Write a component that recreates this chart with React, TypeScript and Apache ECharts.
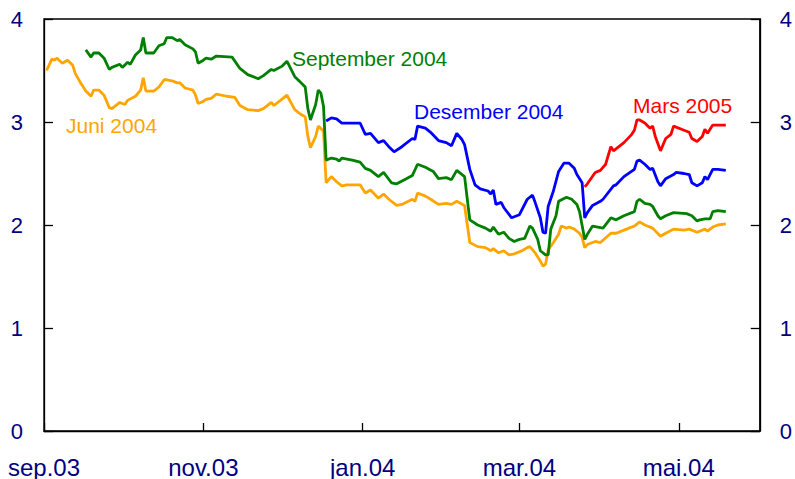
import React, { useEffect, useRef } from 'react';
import * as echarts from 'echarts';

// Juni 2004 (orange)
const junDates = ['2003-09-02','2003-09-04','2003-09-05','2003-09-06','2003-09-08','2003-09-10','2003-09-12','2003-09-13','2003-09-15','2003-09-17','2003-09-19','2003-09-20','2003-09-22','2003-09-24','2003-09-26','2003-09-27','2003-09-30','2003-10-02','2003-10-03','2003-10-06','2003-10-08','2003-10-09','2003-10-10','2003-10-13','2003-10-15','2003-10-17','2003-10-18','2003-10-20','2003-10-22','2003-10-23','2003-10-25','2003-10-28','2003-10-29','2003-10-30','2003-11-01','2003-11-02','2003-11-04','2003-11-06','2003-11-10','2003-11-13','2003-11-15','2003-11-18','2003-11-22','2003-11-24','2003-11-27','2003-11-28','2003-12-01','2003-12-03','2003-12-06','2003-12-08','2003-12-10','2003-12-11','2003-12-12','2003-12-14','2003-12-15','2003-12-17','2003-12-18','2003-12-20','2003-12-22','2003-12-24','2003-12-26','2003-12-31','2004-01-02','2004-01-04','2004-01-07','2004-01-09','2004-01-11','2004-01-14','2004-01-16','2004-01-20','2004-01-21','2004-01-22','2004-01-25','2004-01-27','2004-01-30','2004-02-02','2004-02-04','2004-02-06','2004-02-09','2004-02-11','2004-02-14','2004-02-17','2004-02-19','2004-02-20','2004-02-22','2004-02-24','2004-02-26','2004-02-28','2004-03-02','2004-03-04','2004-03-05','2004-03-07','2004-03-09','2004-03-10','2004-03-11','2004-03-12','2004-03-14','2004-03-16','2004-03-17','2004-03-19','2004-03-20','2004-03-22','2004-03-24','2004-03-25','2004-03-26','2004-03-27','2004-03-30','2004-04-01','2004-04-05','2004-04-07','2004-04-11','2004-04-14','2004-04-16','2004-04-18','2004-04-21','2004-04-24','2004-04-26','2004-04-29','2004-05-03','2004-05-05','2004-05-08','2004-05-11','2004-05-12','2004-05-14','2004-05-16','2004-05-19'];
const junValues = [3.50,3.61,3.60,3.62,3.57,3.60,3.55,3.47,3.38,3.30,3.25,3.31,3.31,3.26,3.14,3.13,3.19,3.17,3.21,3.25,3.31,3.43,3.30,3.30,3.34,3.41,3.41,3.40,3.38,3.38,3.33,3.31,3.26,3.18,3.20,3.22,3.23,3.27,3.25,3.24,3.16,3.12,3.11,3.13,3.19,3.16,3.22,3.26,3.12,3.08,3.05,2.86,2.75,2.86,2.96,2.91,2.41,2.47,2.42,2.38,2.39,2.39,2.31,2.34,2.26,2.30,2.25,2.19,2.20,2.25,2.23,2.31,2.28,2.25,2.20,2.21,2.20,2.23,2.19,1.83,1.79,1.78,1.75,1.77,1.73,1.75,1.71,1.72,1.75,1.78,1.79,1.73,1.65,1.60,1.62,1.76,1.83,1.91,1.99,1.97,1.98,1.96,1.92,1.88,1.78,1.81,1.84,1.83,1.92,1.92,1.96,1.99,2.03,2.00,1.97,1.89,1.92,1.96,1.95,1.96,1.93,1.96,1.94,1.98,2.00,2.01];

// September 2004 (green)
const sepDates = ['2003-09-17','2003-09-19','2003-09-20','2003-09-22','2003-09-24','2003-09-26','2003-09-27','2003-09-30','2003-10-01','2003-10-03','2003-10-04','2003-10-06','2003-10-08','2003-10-09','2003-10-10','2003-10-13','2003-10-15','2003-10-17','2003-10-18','2003-10-20','2003-10-22','2003-10-23','2003-10-25','2003-10-28','2003-10-29','2003-10-30','2003-11-01','2003-11-02','2003-11-04','2003-11-06','2003-11-12','2003-11-15','2003-11-18','2003-11-22','2003-11-24','2003-11-27','2003-11-28','2003-12-01','2003-12-03','2003-12-06','2003-12-08','2003-12-10','2003-12-11','2003-12-12','2003-12-14','2003-12-15','2003-12-16','2003-12-17','2003-12-18','2003-12-20','2003-12-22','2003-12-23','2003-12-24','2003-12-28','2003-12-31','2004-01-02','2004-01-04','2004-01-07','2004-01-09','2004-01-12','2004-01-14','2004-01-17','2004-01-20','2004-01-22','2004-01-25','2004-01-28','2004-01-30','2004-02-02','2004-02-04','2004-02-06','2004-02-09','2004-02-11','2004-02-14','2004-02-17','2004-02-19','2004-02-20','2004-02-22','2004-02-24','2004-02-26','2004-02-28','2004-03-01','2004-03-03','2004-03-05','2004-03-06','2004-03-08','2004-03-09','2004-03-11','2004-03-12','2004-03-13','2004-03-15','2004-03-16','2004-03-19','2004-03-21','2004-03-23','2004-03-24','2004-03-26','2004-03-27','2004-03-29','2004-03-31','2004-04-02','2004-04-05','2004-04-07','2004-04-10','2004-04-14','2004-04-15','2004-04-16','2004-04-18','2004-04-20','2004-04-21','2004-04-23','2004-04-24','2004-04-26','2004-04-29','2004-05-04','2004-05-06','2004-05-08','2004-05-09','2004-05-11','2004-05-13','2004-05-14','2004-05-16','2004-05-19'];
const sepValues = [3.70,3.63,3.67,3.67,3.62,3.51,3.53,3.56,3.53,3.58,3.56,3.65,3.70,3.82,3.67,3.67,3.74,3.76,3.82,3.82,3.79,3.80,3.75,3.71,3.68,3.57,3.60,3.62,3.61,3.64,3.63,3.52,3.46,3.42,3.45,3.51,3.50,3.54,3.59,3.44,3.39,3.34,3.13,3.02,3.17,3.31,3.28,3.15,2.63,2.65,2.64,2.62,2.65,2.63,2.61,2.55,2.53,2.47,2.51,2.41,2.40,2.44,2.48,2.59,2.56,2.52,2.45,2.46,2.44,2.53,2.47,2.05,2.00,1.97,1.94,1.98,1.91,1.93,1.87,1.84,1.86,1.87,1.99,1.97,1.86,1.75,1.71,1.71,1.96,2.09,2.23,2.27,2.25,2.20,2.13,1.86,1.91,1.99,1.98,1.97,2.07,2.05,2.09,2.13,2.23,2.25,2.21,2.20,2.18,2.09,2.06,2.09,2.12,2.11,2.09,2.04,2.05,2.06,2.06,2.13,2.14,2.13];

// Desember 2004 (blue)
const desDates = ['2003-12-18','2003-12-20','2003-12-22','2003-12-24','2003-12-31','2004-01-02','2004-01-04','2004-01-07','2004-01-09','2004-01-11','2004-01-13','2004-01-16','2004-01-20','2004-01-21','2004-01-22','2004-01-25','2004-01-27','2004-01-30','2004-02-02','2004-02-04','2004-02-06','2004-02-08','2004-02-09','2004-02-11','2004-02-13','2004-02-15','2004-02-18','2004-02-19','2004-02-20','2004-02-21','2004-02-23','2004-02-24','2004-02-27','2004-02-29','2004-03-01','2004-03-04','2004-03-06','2004-03-07','2004-03-09','2004-03-10','2004-03-11','2004-03-12','2004-03-14','2004-03-16','2004-03-18','2004-03-20','2004-03-22','2004-03-23','2004-03-25','2004-03-26','2004-03-27','2004-03-29','2004-04-01','2004-04-02','2004-04-06','2004-04-07','2004-04-10','2004-04-14','2004-04-15','2004-04-16','2004-04-18','2004-04-20','2004-04-21','2004-04-23','2004-04-24','2004-04-26','2004-04-29','2004-04-30','2004-05-03','2004-05-05','2004-05-06','2004-05-08','2004-05-10','2004-05-11','2004-05-12','2004-05-14','2004-05-16','2004-05-19'];
const desValues = [3.01,3.04,3.03,2.99,2.99,2.88,2.89,2.80,2.82,2.76,2.71,2.76,2.84,2.83,2.96,2.94,2.90,2.82,2.80,2.77,2.89,2.83,2.78,2.54,2.39,2.35,2.33,2.30,2.34,2.20,2.22,2.17,2.07,2.09,2.10,2.25,2.29,2.22,2.07,1.93,1.92,2.18,2.33,2.52,2.60,2.60,2.55,2.49,2.41,2.07,2.12,2.19,2.23,2.25,2.38,2.39,2.47,2.54,2.62,2.63,2.59,2.54,2.55,2.42,2.38,2.45,2.49,2.51,2.50,2.49,2.41,2.38,2.41,2.47,2.44,2.54,2.54,2.53];

// Mars 2005 (red)
const marDates = ['2004-03-26','2004-03-27','2004-03-30','2004-04-01','2004-04-03','2004-04-05','2004-04-06','2004-04-10','2004-04-13','2004-04-14','2004-04-15','2004-04-16','2004-04-18','2004-04-20','2004-04-21','2004-04-22','2004-04-24','2004-04-26','2004-04-28','2004-04-29','2004-05-03','2004-05-05','2004-05-06','2004-05-08','2004-05-10','2004-05-11','2004-05-12','2004-05-14','2004-05-19'];
const marValues = [2.37,2.40,2.51,2.53,2.59,2.76,2.72,2.80,2.88,2.92,3.02,3.02,2.99,2.94,2.96,2.86,2.72,2.84,2.88,2.96,2.92,2.90,2.84,2.81,2.86,2.93,2.89,2.97,2.97];

const seriesNames = ['Juni 2004', 'September 2004', 'Desember 2004', 'Mars 2005'];
const monthNames = ['jan', 'feb', 'mar', 'apr', 'mai', 'jun', 'jul', 'aug', 'sep', 'okt', 'nov', 'des'];
const xMin = '2003-09-01';
const xMax = '2004-06-01';
const yMin = 0;
const yMax = 4;
const yStep = 1;

const zip = (d: string[], v: number[]) => d.map((x, i) => [x, v[i]]);

export default function App() {
  const ref = useRef<HTMLDivElement>(null);
  useEffect(() => {
    if (!ref.current) return;
    const chart = echarts.init(ref.current, null, { renderer: 'svg' });
    const navy = '#000080';
    const font = 'Liberation Sans, Arial, sans-serif';
    const yAxisBase = {
      type: 'value',
      min: yMin,
      max: yMax,
      interval: yStep,
      splitLine: { show: false },
      axisLine: { show: true, lineStyle: { color: '#000', width: 1.3 } },
      axisTick: { show: true, inside: true, length: 9, lineStyle: { color: '#000', width: 1.3 } },
      axisLabel: { color: navy, fontSize: 22, fontFamily: font, margin: 21 },
    };
    const lineBase = (color: string) => ({
      type: 'line',
      showSymbol: false,
      symbol: 'none',
      lineStyle: { color, width: 2.8 },
      itemStyle: { color },
      xAxisIndex: 0,
      yAxisIndex: 0,
    });
    chart.setOption({
      animation: false,
      backgroundColor: '#fff',
      grid: {
        left: 44,
        right: 31,
        top: 19,
        bottom: 47,
        show: true,
        borderColor: '#000',
        borderWidth: 1.3,
        containLabel: false,
      },
      xAxis: {
        type: 'time',
        min: xMin,
        max: xMax,
        splitNumber: 4,
        splitLine: { show: false },
        axisLine: { show: true, lineStyle: { color: '#000', width: 1.3 } },
        axisTick: { show: true, inside: true, length: 8, lineStyle: { color: '#000', width: 1.3 } },
        axisLabel: {
          color: navy,
          fontSize: 24,
          fontFamily: font,
          margin: 24,
          showMaxLabel: false,
          formatter: (val: number) => {
            const d = new Date(val);
            return monthNames[d.getMonth()] + '.' + String(d.getFullYear()).slice(2);
          },
        },
      },
      yAxis: [
        { ...yAxisBase, position: 'left' },
        { ...yAxisBase, position: 'right', axisLabel: { ...yAxisBase.axisLabel, margin: 20 } },
      ],
      series: [
        { ...lineBase('#FFA500'), name: seriesNames[0], data: zip(junDates, junValues) },
        { ...lineBase('#008000'), name: seriesNames[1], data: zip(sepDates, sepValues) },
        { ...lineBase('#0000FF'), name: seriesNames[2], data: zip(desDates, desValues) },
        { ...lineBase('#FF0000'), name: seriesNames[3], data: zip(marDates, marValues) },
      ],
      graphic: [
        { type: 'text', left: 66, top: 115, style: { text: seriesNames[0], fill: '#FFA500', font: `21px ${font}` } },
        { type: 'text', left: 292, top: 48, style: { text: seriesNames[1], fill: '#008000', font: `21px ${font}` } },
        { type: 'text', left: 414, top: 101, style: { text: seriesNames[2], fill: '#0000FF', font: `21px ${font}` } },
        { type: 'text', left: 633, top: 95, style: { text: seriesNames[3], fill: '#FF0000', font: `21px ${font}` } },
      ],
    });
    return () => chart.dispose();
  }, []);
  return <div ref={ref} style={{ position: 'fixed', left: 0, top: 0, width: 795, height: 479 }} />;
}
